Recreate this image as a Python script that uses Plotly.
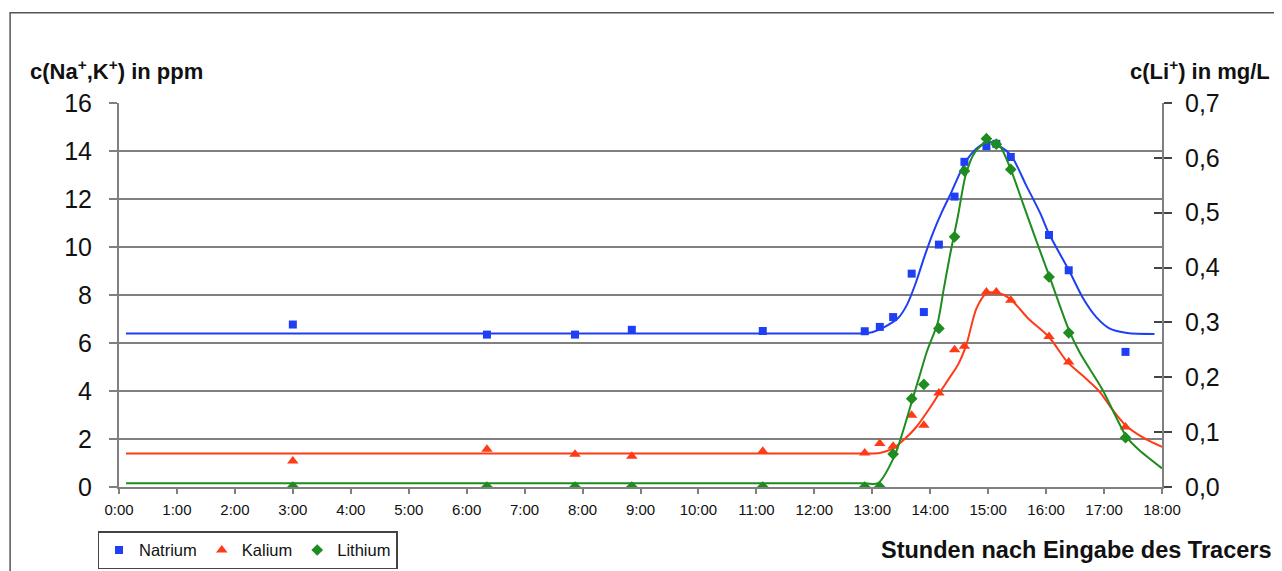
import plotly.graph_objects as go

# ---------------- data ----------------
hour_ticks = list(range(0, 19))
hour_labels = [f"{h}:00" for h in hour_ticks]

times = [3.0, 6.35, 7.87, 8.85, 11.11, 12.87, 13.13, 13.36, 13.68, 13.89,
         14.15, 14.42, 14.59, 14.97, 15.14, 15.39, 16.05, 16.39, 17.37]
natrium = [6.77, 6.35, 6.35, 6.55, 6.5, 6.49, 6.67, 7.08, 8.89, 7.29,
           10.1, 12.1, 13.55, 14.2, 14.3, 13.75, 10.5, 9.03, 5.63]
kalium = [1.08, 1.57, 1.36, 1.28, 1.49, 1.42, 1.81, 1.70, 2.99, 2.57,
          3.92, 5.72, 5.86, 8.13, 8.13, 7.78, 6.27, 5.21, 2.5]
lithium = [0.0, 0.0, 0.0, 0.0, 0.0, 0.0, 0.0, 0.06, 0.161, 0.187,
           0.289, 0.456, 0.576, 0.635, 0.625, 0.579, 0.383, 0.281, 0.09]

# fitted curves
fit_na_t = [0.12, 3.0, 6.0, 9.0, 12.0, 12.8, 13.0, 13.2, 13.45, 13.6, 13.75, 13.9,
            14.05, 14.2, 14.35, 14.6, 14.8, 15.0, 15.2, 15.4, 15.65, 15.9, 16.05, 16.4,
            16.63, 16.87, 17.1, 17.4, 17.87]
fit_na = [6.4, 6.4, 6.4, 6.4, 6.4, 6.4, 6.45, 6.65, 7.05, 7.6, 8.5, 9.6,
          10.6, 11.45, 12.2, 13.5, 14.1, 14.37, 14.2, 13.8, 12.6, 11.4, 10.55, 9.0,
          7.9, 7.07, 6.6, 6.42, 6.38]

fit_k_t = [0.12, 3.0, 6.0, 9.0, 12.0, 12.9, 13.13, 13.35, 13.56, 13.76, 13.99,
           14.16, 14.34, 14.48, 14.62, 14.8, 14.97, 15.14, 15.37, 15.7, 16.05,
           16.37, 16.65, 16.92, 17.15, 17.38, 17.61, 17.8, 18.0]
fit_k = [1.4, 1.4, 1.4, 1.4, 1.4, 1.4, 1.42, 1.6, 2.0, 2.5, 3.28,
         3.92, 4.58, 5.1, 5.9, 7.45, 8.07, 8.1, 7.86, 7.0, 6.25,
         5.2, 4.6, 3.98, 3.2, 2.55, 2.15, 1.9, 1.67]

fit_li_t = [0.12, 3.0, 6.0, 9.0, 12.0, 12.8, 13.1, 13.39, 13.56, 13.70, 13.82,
            13.94, 14.13, 14.23, 14.34, 14.48, 14.61, 14.77, 14.99, 15.2, 15.39,
            15.6, 15.83, 16.06, 16.39, 16.58, 16.98, 17.39, 17.61, 18.0]
fit_li = [0.007, 0.007, 0.007, 0.007, 0.007, 0.007, 0.007, 0.058, 0.112, 0.162,
          0.204, 0.246, 0.30, 0.359, 0.422, 0.495, 0.568, 0.61, 0.63, 0.621,
          0.579, 0.517, 0.449, 0.383, 0.287, 0.245, 0.176, 0.091, 0.067, 0.034]

BLUE = "#1f3ff5"
RED = "#ff3a17"
GREEN = "#1e8c1e"
GRID = "#808080"
FONT = "Liberation Sans, Arial, sans-serif"

fig = go.Figure()

# fitted curves
fig.add_trace(go.Scatter(x=fit_na_t, y=fit_na, mode="lines",
                         line=dict(color=BLUE, width=2, shape="spline", smoothing=0.8),
                         showlegend=False, hoverinfo="skip"))
fig.add_trace(go.Scatter(x=fit_k_t, y=fit_k, mode="lines",
                         line=dict(color=RED, width=2, shape="spline", smoothing=0.8),
                         showlegend=False, hoverinfo="skip"))
fig.add_trace(go.Scatter(x=fit_li_t, y=fit_li, mode="lines",
                         line=dict(color=GREEN, width=2, shape="spline", smoothing=0.7),
                         showlegend=False, hoverinfo="skip", yaxis="y2"))

# measured points
fig.add_trace(go.Scatter(x=times, y=natrium, mode="markers", name="Natrium",
                         marker=dict(symbol="square", size=8, color=BLUE)))
fig.add_trace(go.Scatter(x=times, y=kalium, mode="markers", name="Kalium",
                         marker=dict(symbol="triangle-up", size=10, color=RED)))
fig.add_trace(go.Scatter(x=times, y=lithium, mode="markers", name="Lithium", yaxis="y2",
                         marker=dict(symbol="diamond", size=9, color=GREEN)))

# invisible trace so the inside-tick axis (y3) is drawn
fig.add_trace(go.Scatter(x=[0], y=[0], yaxis="y3", mode="markers", marker=dict(opacity=0),
                         showlegend=False, hoverinfo="skip"))

# screen positions of the plot area (page body has an 8px margin)
OFF = 8
L, R, T, B = 118.5, 1162.5, 102.7, 486.7
W, H = 1282, 571


def px(x):
    return (x - L) / (R - L)


def py(y):
    return (B - y) / (B - T)


TICKS_R = [0, 0.1, 0.2, 0.3, 0.4, 0.5, 0.6, 0.7]

fig.update_layout(
    width=W, height=H,
    margin=dict(l=L - OFF, r=W - (R - OFF), t=T - OFF, b=H - (B - OFF), pad=0, autoexpand=False),
    paper_bgcolor="white", plot_bgcolor="white",
    separators=",.",
    font=dict(family=FONT, color="#111111"),
    xaxis=dict(range=[0, 18], tickvals=hour_ticks, ticktext=hour_labels,
               showgrid=False, zeroline=False, showline=True, linecolor=GRID, linewidth=2,
               ticks="outside", ticklen=5, tickwidth=1.5, tickcolor=GRID,
               tickfont=dict(size=15, family=FONT), ticklabelstandoff=3),
    yaxis=dict(range=[0, 16], tickvals=list(range(0, 17, 2)),
               showgrid=True, gridcolor=GRID, gridwidth=2, zeroline=False,
               showline=True, linecolor=GRID, linewidth=2,
               ticks="outside", ticklen=8, tickwidth=1.5, tickcolor=GRID,
               tickfont=dict(size=25, family=FONT), ticklabelstandoff=12),
    yaxis2=dict(range=[0, 0.7], tickvals=TICKS_R, tickformat=".1f",
                overlaying="y", side="right", showgrid=False, zeroline=False,
                showline=True, linecolor=GRID, linewidth=2,
                ticks="outside", ticklen=8, tickwidth=1.5, tickcolor="#444444",
                tickfont=dict(size=25, family=FONT), ticklabelstandoff=8),
    yaxis3=dict(range=[0, 0.7], tickvals=TICKS_R,
                overlaying="y", side="right", showgrid=False, zeroline=False,
                showline=False, showticklabels=False,
                ticks="inside", ticklen=8, tickwidth=1.5, tickcolor="#444444"),
    showlegend=True,
    legend=dict(orientation="h", x=px(97), y=py(531), xanchor="left", yanchor="top",
                bordercolor="#444444", borderwidth=1.5, bgcolor="white",
                font=dict(size=16.5, family=FONT), itemwidth=30, tracegroupgap=0),
    annotations=[
        dict(text="<b>c(Na<sup>+</sup>,K<sup>+</sup>) in ppm</b>", x=px(27), y=py(70),
             xref="paper", yref="paper", xanchor="left", yanchor="middle", showarrow=False,
             font=dict(size=22, family=FONT, color="#111111")),
        dict(text="<b>c(Li<sup>+</sup>) in mg/L</b>", x=px(1273), y=py(70),
             xref="paper", yref="paper", xanchor="right", yanchor="middle", showarrow=False,
             font=dict(size=22, family=FONT, color="#111111")),
        dict(text="<b>Stunden nach Eingabe des Tracers</b>", x=px(1274), y=py(550),
             xref="paper", yref="paper", xanchor="right", yanchor="middle", showarrow=False,
             font=dict(size=23.5, family=FONT, color="#111111")),
    ],
    shapes=[
        dict(type="rect", xref="paper", yref="paper", x0=px(9.5), x1=px(1277), y0=py(590), y1=py(12.5),
             fillcolor="rgba(0,0,0,0)", line=dict(color="#555555", width=1.5), layer="below"),
    ],
)

fig.write_html("out.html")
